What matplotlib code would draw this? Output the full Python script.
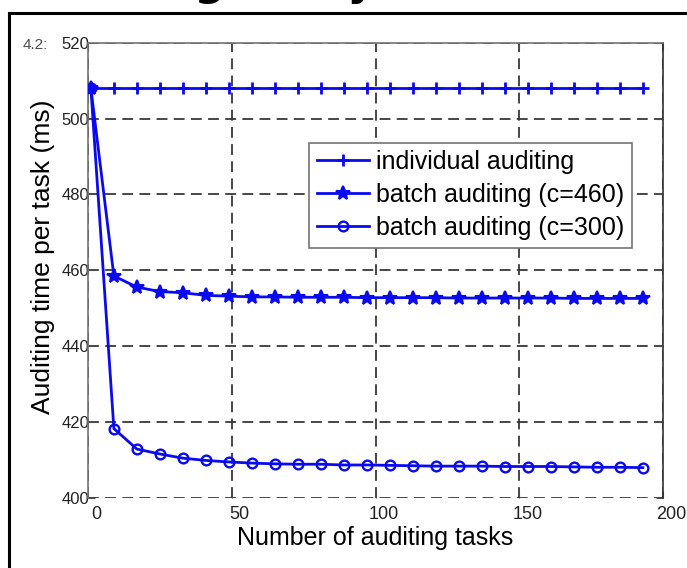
import numpy as np
import matplotlib
matplotlib.use('Agg')
from matplotlib import pyplot as plt
from matplotlib.lines import Line2D
from matplotlib.transforms import ScaledTranslation

# Number of auditing tasks (x) and auditing time per task in ms
tasks = list(range(1, 194, 8))
individual = [508] * len(tasks)
batch_460 = [508, 458.5, 455.6, 454.4, 454.1, 453.4, 453.2, 453.0, 453.0,
             452.9, 452.9, 452.9, 452.8, 452.8, 452.8, 452.8, 452.7, 452.7,
             452.7, 452.7, 452.7, 452.6, 452.6, 452.6, 452.6]
batch_300 = [508, 418.3, 412.9, 411.6, 410.5, 409.9, 409.5, 409.2, 409.0,
             408.9, 408.9, 408.7, 408.7, 408.6, 408.5, 408.4, 408.4, 408.4,
             408.3, 408.3, 408.3, 408.2, 408.1, 408.1, 408.0]

x_ticks = [0, 50, 100, 150, 200]
y_ticks = [400, 420, 440, 460, 480, 500, 520]

plt.rcParams['font.family'] = ['Liberation Sans', 'DejaVu Sans']

fig = plt.figure(figsize=(6.87, 5.68), dpi=100)
ax = fig.add_axes([88 / 687, 1 - 498 / 568, (663 - 88) / 687, (498 - 42.7) / 568])

blue = '#0a0af0'
ax.plot(tasks, individual, color=blue, lw=2, marker='+', ms=9, mew=2,
        label='individual auditing', zorder=3)
ax.plot(tasks, batch_460, color=blue, lw=2, marker='*', ms=10, mew=1.5,
        label='batch auditing (c=460)', zorder=3)
ax.plot(tasks, batch_300, color=blue, lw=2, marker='o', ms=7, mew=1.7,
        mfc='none', label='batch auditing (c=300)', zorder=3)

ax.set_xlim(0, 200)
ax.set_ylim(400, 520)
ax.set_xticks(x_ticks)
ax.set_yticks(y_ticks)
ax.grid(True, color='0.22', linestyle=(0, (6, 3.5)), lw=1.3)

ax.spines['bottom'].set_visible(False)
for side in ['top', 'left']:
    ax.spines[side].set_color('0.45')
ax.spines['right'].set_color('0.2')
for s in ax.spines.values():
    s.set_linewidth(1.2)

ax.tick_params(direction='in', top=True, right=True, length=5, color='0.3')
ax.tick_params(axis='x', labelsize=13, pad=6, labelcolor='#222222')
ax.tick_params(axis='y', labelsize=12, pad=-1, labelcolor='#222222')
for lab in ax.get_xticklabels():
    lab.set_transform(lab.get_transform() + ScaledTranslation(8 / 100, 0, fig.dpi_scale_trans))

ax.set_xlabel('Number of auditing tasks', fontsize=18, labelpad=2)
ax.set_ylabel('Auditing time per task (ms)', fontsize=19)
ax.yaxis.set_label_coords(-0.057, 0.529)

leg = ax.legend(loc='upper left', bbox_to_anchor=(309 / 687, 1 - 142.7 / 568),
                bbox_transform=fig.transFigure, borderaxespad=0, fontsize=18,
                handlelength=2.1, handletextpad=0.3, labelspacing=0.36,
                borderpad=0.3, fancybox=False, framealpha=1, edgecolor='0.45')
leg.get_frame().set_linewidth(1.2)

# screenshot frame and cut-off heading
fig.add_artist(Line2D([9 / 687, 9 / 687], [0, 1 - 13 / 568], color='black', lw=2.2,
                      transform=fig.transFigure))
fig.add_artist(Line2D([9 / 687, 1], [1 - 13 / 568, 1 - 13 / 568], color='black', lw=2.2,
                      transform=fig.transFigure))
fig.text(19 / 687, 1 + 5 / 568, 'Auditing Delay', fontsize=31, fontweight='bold',
         family='DejaVu Sans', ha='left', va='baseline')
fig.text(35 / 687, 1 - 45 / 568, '4.2:', fontsize=11, color='0.3', ha='center', va='center')

fig.savefig('out.png', dpi=100)
